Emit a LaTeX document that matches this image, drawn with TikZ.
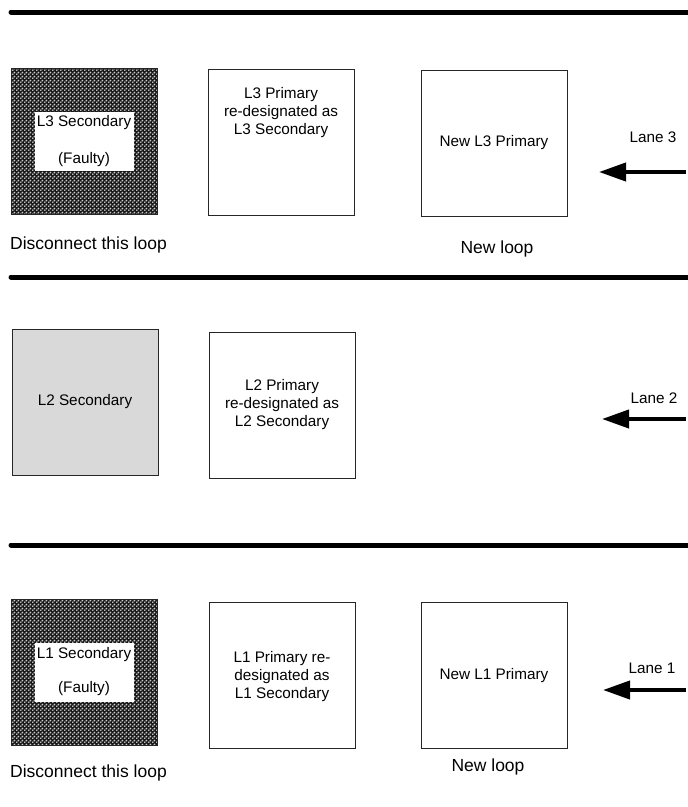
\documentclass[tikz,border=0pt]{standalone}
\usepackage{fontspec}
\setmainfont{Liberation Sans}
\usetikzlibrary{arrows.meta,patterns}
\pgfdeclarepatternformonly{checkdots}{\pgfpointorigin}{\pgfpoint{4pt}{4pt}}{\pgfpoint{4pt}{4pt}}{%
  \pgfpathcircle{\pgfpoint{1pt}{1pt}}{1.15pt}%
  \pgfpathcircle{\pgfpoint{3pt}{3pt}}{1.15pt}%
  \pgfusepath{fill}}
\begin{document}
\begin{tikzpicture}[x=1pt,y=-1pt,
  box/.style={draw=black!85, line width=0.9pt, inner sep=0pt, minimum width=146pt, minimum height=146pt},
  faulty/.style={box, preaction={fill=black!90}, pattern=checkdots, pattern color=black!20},
  greybox/.style={box, fill=black!15},
  whitebox/.style={fill=white, inner sep=0pt, minimum width=99pt, minimum height=59pt},
  boxtext/.style={font=\fontsize{15.3}{18}\selectfont, align=center, inner sep=0pt},
  lbl/.style={font=\fontsize{17.5}{20}\selectfont, inner sep=0pt},
  sep/.style={line width=5pt, line cap=round},
  lanearrow/.style={line width=4pt, -{Triangle[length=27pt,width=18pt]}},
  ]
\useasboundingbox (0,0) rectangle (688,807);

% separators
\coordinate (s1a) at (11,12);  \coordinate (s1b) at (692,12);
\coordinate (s2a) at (11,277); \coordinate (s2b) at (692,277);
\coordinate (s3a) at (11,545); \coordinate (s3b) at (692,545);
\draw[sep] (s1a) -- (s1b);
\draw[sep] (s2a) -- (s2b);
\draw[sep] (s3a) -- (s3b);

% ---------- Lane 3 ----------
\node[faulty] (l3sec) at (84.5,141.5) {};
\node[whitebox] (l3w) at (84.5,141.5) {};
\node[boxtext] (l3t1) at (84,123) {L3 Secondary};
\node[boxtext] (l3t2) at (84,160) {(Faulty)};
\node[box] (l3pri) at (281,142.5) {};
\node[boxtext] (l3pt) at (281,113) {L3 Primary\\re-designated as\\L3 Secondary};
\node[box] (l3new) at (494,143) {};
\node[boxtext] at (l3new) {New L3 Primary};
\node[lbl, anchor=west] (l3dis) at (10,245) {Disconnect this loop};
\node[lbl] (l3loop) at (497,249) {New loop};
\node[boxtext] (lane3) at (653,137) {Lane 3};
\coordinate (a3s) at (686,172);
\coordinate (a3e) at (599,172);
\draw[lanearrow] (a3s) -- (a3e);

% ---------- Lane 2 ----------
\node[greybox] (l2sec) at (85,402) {};
\node[boxtext] (l2st) at (85,402) {L2 Secondary};
\node[box] (l2pri) at (282,405) {};
\node[boxtext] (l2pt) at (282,405) {L2 Primary\\re-designated as\\L2 Secondary};
\node[boxtext] (lane2) at (654,398) {Lane 2};
\coordinate (a2s) at (686,419);
\coordinate (a2e) at (602,419);
\draw[lanearrow] (a2s) -- (a2e);

% ---------- Lane 1 ----------
\node[faulty] (l1sec) at (84.5,672.5) {};
\node[whitebox] (l1w) at (84.5,672) {};
\node[boxtext] (l1t1) at (84,655) {L1 Secondary};
\node[boxtext] (l1t2) at (84,689) {(Faulty)};
\node[box] (l1pri) at (282,675.5) {};
\node[boxtext] (l1pt) at (282,677) {L1 Primary re-\\designated as\\L1 Secondary};
\node[box] (l1new) at (494,675.5) {};
\node[boxtext] at (l1new) {New L1 Primary};
\node[lbl, anchor=west] (l1dis) at (10,773) {Disconnect this loop};
\node[lbl] (l1loop) at (488,767) {New loop};
\node[boxtext] (lane1) at (652,668) {Lane 1};
\coordinate (a1s) at (686,690);
\coordinate (a1e) at (603,690);
\draw[lanearrow] (a1s) -- (a1e);
\end{tikzpicture}
\end{document}
